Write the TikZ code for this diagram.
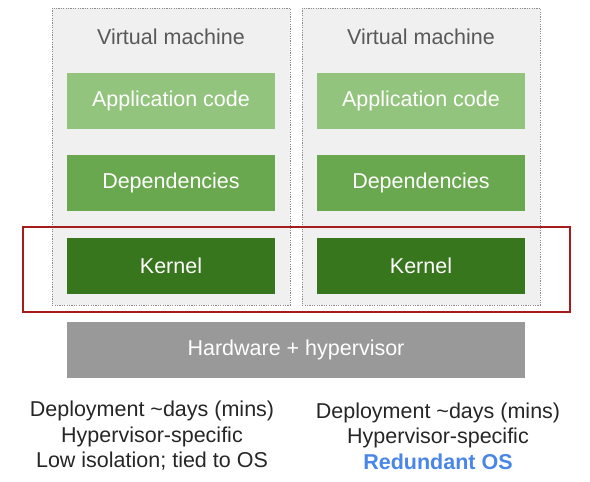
\documentclass[tikz,border=0pt]{standalone}
\usepackage{fontspec}
\setmainfont{Liberation Sans}
\usetikzlibrary{positioning}

\definecolor{appgreen}{HTML}{93C47D}
\definecolor{depgreen}{HTML}{6AA84F}
\definecolor{kerngreen}{HTML}{38761D}
\definecolor{hwgray}{HTML}{999999}
\definecolor{hired}{HTML}{A61C1C}
\definecolor{osblue}{HTML}{4A86E8}

\begin{document}
\begin{tikzpicture}[
  x=1pt, y=-1pt,
  node distance=26pt,
  vm/.style={draw=black!45, dash pattern=on 1.2pt off 1.2pt, fill=black!6,
             minimum width=238pt, minimum height=297pt, inner sep=0pt, anchor=north west},
  title/.style={text=black!65, font=\fontsize{21.5}{25}\selectfont},
  layer/.style={minimum width=208pt, minimum height=56pt, inner sep=0pt,
                text=white, font=\fontsize{21.5}{25}\selectfont},
  hilite/.style={draw=hired, line width=1.6pt, minimum width=547pt,
                 minimum height=85pt, inner sep=0pt},
  note/.style={align=center, text=black!85, font=\fontsize{21.5}{25.5}\selectfont}
]
  \useasboundingbox (0,0) rectangle (590,482);

  \node[vm] (vma) at (52,8) {};
  \node[vm] (vmb) at (302,8) {};

  \node[title] (ta) at (171,37) {Virtual machine};
  \node[title] (tb) at (421,37) {Virtual machine};

  \node[layer, fill=appgreen] (appa) at (171,101) {Application code};
  \node[layer, fill=depgreen, below=of appa] (depa) {Dependencies};
  \node[layer, fill=kerngreen, below=of depa] (kera) {Kernel};

  \node[layer, fill=appgreen] (appb) at (421,101) {Application code};
  \node[layer, fill=depgreen, below=of appb] (depb) {Dependencies};
  \node[layer, fill=kerngreen, below=of depb] (kerb) {Kernel};

  \node[hilite] (hl) at (296.5,269.5) {};

  \node[layer, fill=hwgray, minimum width=458pt] (hw) at (296,350) {Hardware + hypervisor};

  \node[note] (na) at (152,436) {Deployment \textasciitilde days (mins)\\Hypervisor-specific\\Low isolation; tied to OS};
  \node[note] (nb) at (438,436) {Deployment \textasciitilde days (mins)\\Hypervisor-specific\\\textcolor{osblue}{\bfseries Redundant OS}};
\end{tikzpicture}
\end{document}
